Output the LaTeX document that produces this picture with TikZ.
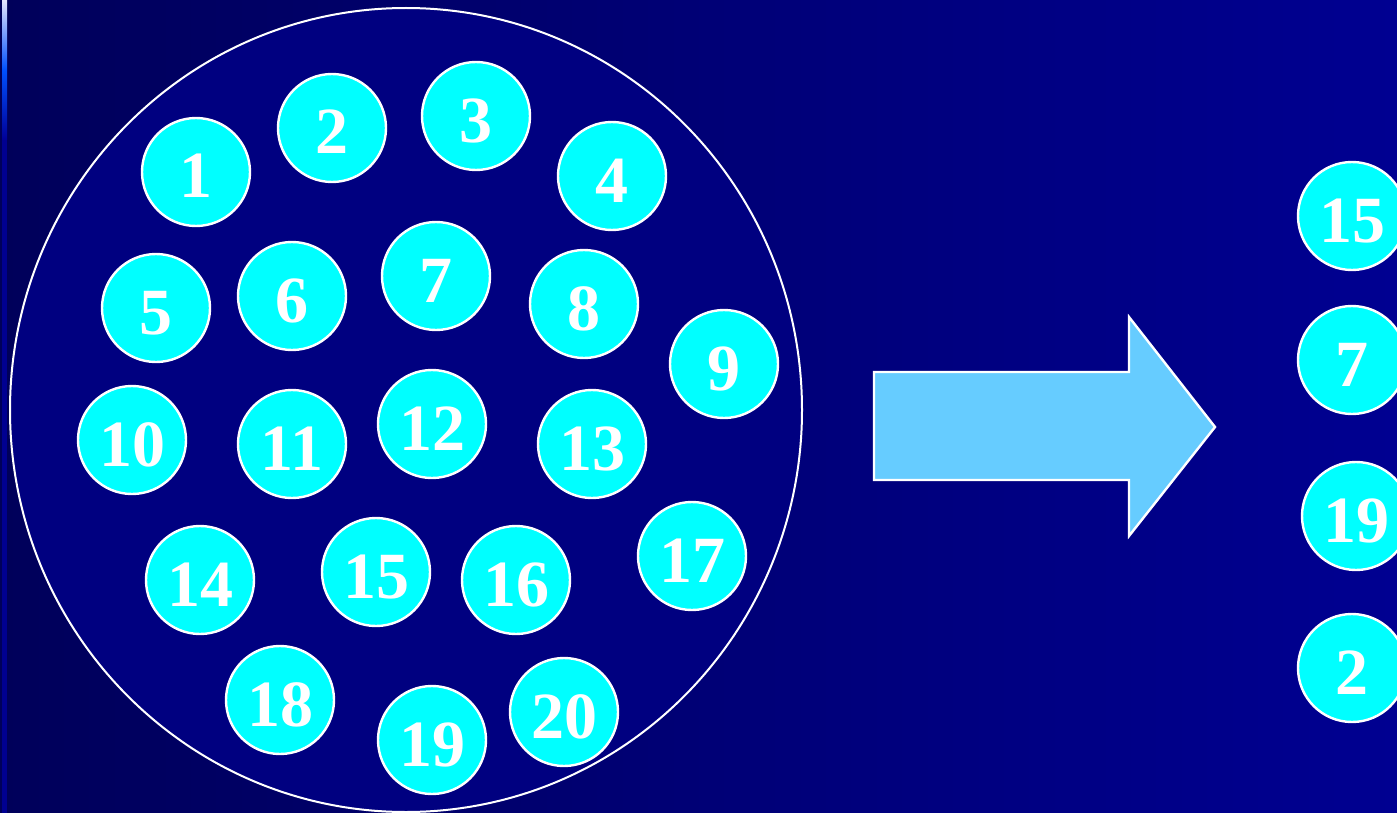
\documentclass[tikz,border=0pt]{standalone}
\usepackage{fontspec}
\setmainfont{Liberation Serif}
\definecolor{bgdark}{RGB}{0,0,90}
\definecolor{bglight}{RGB}{0,0,145}
\definecolor{bowl}{RGB}{0,0,128}
\definecolor{ball}{RGB}{0,255,255}
\definecolor{arrowfill}{RGB}{102,204,255}
\tikzset{
  ball/.style={circle, draw=white, line width=1.2pt, fill=ball,
    minimum size=54pt, inner sep=0pt, text=white,
    text height=26pt, text depth=0pt,
    font=\fontsize{33}{34}\selectfont\bfseries}
}
\begin{document}
\begin{tikzpicture}[x=0.5pt, y=-0.5pt]
  \useasboundingbox (0,0) rectangle (1397,813);
  % Fondo
  \shade[left color=bgdark, right color=bglight] (0,0) rectangle (1397,813);
  \shade[top color=white!90!blue, bottom color={rgb,255:red,0;green,0;blue,150},
    middle color={rgb,255:red,0;green,80;blue,255}] (2,0) rectangle (7,140);
  \fill[bglight] (2,140) rectangle (7,813);

  % Urna con las bolas
  \draw[white, line width=1pt, fill=bowl] (406,410) ellipse (396 and 402);
  \node[ball] (b1)  at (196,172) {1};
  \node[ball] (b2)  at (332,128) {2};
  \node[ball] (b3)  at (476,116) {3};
  \node[ball] (b4)  at (612,176) {4};
  \node[ball] (b5)  at (156,308) {5};
  \node[ball] (b6)  at (292,296) {6};
  \node[ball] (b7)  at (436,276) {7};
  \node[ball] (b8)  at (584,304) {8};
  \node[ball] (b9)  at (724,364) {9};
  \node[ball] (b10) at (132,440) {10};
  \node[ball] (b11) at (292,444) {11};
  \node[ball] (b12) at (432,424) {12};
  \node[ball] (b13) at (592,444) {13};
  \node[ball] (b14) at (200,580) {14};
  \node[ball] (b15) at (376,572) {15};
  \node[ball] (b16) at (516,580) {16};
  \node[ball] (b17) at (692,556) {17};
  \node[ball] (b18) at (280,700) {18};
  \node[ball] (b19) at (432,740) {19};
  \node[ball] (b20) at (564,712) {20};

  % Flecha
  \draw[white, line width=1.2pt, fill=arrowfill]
    (874,372) -- (1129,372) -- (1129,317) -- (1215,427)
    -- (1129,536) -- (1129,480) -- (874,480) -- cycle;

  % Muestra
  \node[ball] (s15) at (1352,216) {15};
  \node[ball] (s7)  at (1352,360) {7};
  \node[ball] (s19) at (1356,516) {19};
  \node[ball] (s2)  at (1352,668) {2};
\end{tikzpicture}
\end{document}
